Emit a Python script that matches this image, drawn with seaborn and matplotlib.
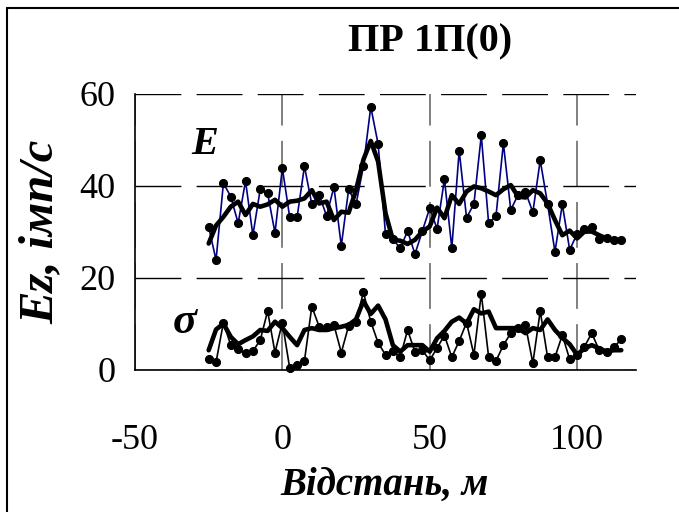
import numpy as np
import pandas as pd
import matplotlib
matplotlib.use("Agg")
import matplotlib.pyplot as plt
import seaborn as sns
from matplotlib.ticker import MultipleLocator
from matplotlib.lines import Line2D

# ---- data ----
distance = [-25, -22.5, -20, -17.5, -15, -12.5, -10, -7.5, -5, -2.5,
            0, 2.5, 5, 7.5, 10, 12.5, 15, 17.5, 20, 22.5,
            25, 27.5, 30, 32.5, 35, 37.5, 40, 42.5, 45, 47.5,
            50, 52.5, 55, 57.5, 60, 62.5, 65, 67.5, 70, 72.5,
            75, 77.5, 80, 82.5, 85, 87.5, 90, 92.5, 95, 97.5,
            100, 102.5, 105, 107.5, 110, 112.5, 115]

e_raw = [31.1, 23.9, 40.6, 37.7, 31.9, 41.1, 29.3, 39.3, 38.4, 29.8,
         43.9, 33.2, 33.2, 44.3, 36.0, 38.1, 33.5, 39.8, 27.0, 39.3,
         36.0, 44.3, 57.2, 49.1, 29.5, 28.4, 26.5, 30.2, 25.2, 30.2,
         35.2, 30.7, 41.5, 26.5, 47.7, 33.1, 36.1, 51.0, 31.9, 33.5,
         49.3, 34.8, 38.1, 38.7, 34.3, 45.6, 36.1, 25.7, 36.0, 26.1,
         29.6, 30.7, 31.1, 28.5, 28.6, 28.2, 28.2]

e_smooth = [27.5, 31.4, 33.3, 35.5, 36.6, 33.7, 36.1, 35.5, 36.0, 37.0,
            35.5, 36.6, 36.8, 37.3, 39.1, 36.2, 36.6, 32.6, 34.4, 34.2,
            39.1, 45.7, 49.8, 45.3, 34.1, 28.3, 28.1, 27.4, 28.3, 30.1,
            31.2, 35.3, 33.0, 38.0, 36.1, 38.8, 39.9, 39.5, 38.8, 38.0,
            39.3, 40.2, 37.7, 37.5, 39.1, 38.4, 36.2, 32.6, 29.3, 30.3,
            28.6, 30.1, 30.1, 29.3, 28.6, 28.1, 28.1]

s_raw = [2.5, 1.7, 10.3, 5.4, 4.5, 3.6, 4.1, 6.5, 12.8, 3.8,
         10.3, 0.4, 1.1, 2.0, 13.8, 9.4, 9.3, 9.8, 3.8, 9.6,
         10.5, 16.9, 10.5, 5.9, 3.3, 4.1, 2.8, 8.7, 3.9, 4.3,
         2.1, 4.8, 7.5, 2.8, 6.3, 10.3, 3.3, 16.6, 2.8, 2.0,
         5.4, 8.0, 9.1, 9.7, 1.5, 12.8, 2.8, 2.8, 7.6, 2.3,
         3.3, 5.1, 8.0, 4.3, 4.0, 4.9, 6.7]

s_smooth = [4.3, 8.8, 10.1, 7.2, 5.6, 6.5, 7.3, 8.7, 8.5, 10.5,
            9.1, 7.2, 5.4, 8.7, 9.1, 8.7, 8.7, 9.1, 9.4, 9.8,
            11.0, 15.0, 12.2, 14.0, 11.0, 5.4, 4.0, 5.4, 5.4, 5.4,
            4.0, 6.9, 8.5, 10.5, 11.4, 10.1, 13.2, 12.3, 12.7, 9.1,
            9.1, 9.1, 9.1, 8.0, 9.1, 8.7, 11.0, 8.7, 7.0, 5.6,
            3.3, 4.7, 5.4, 4.7, 4.0, 4.3, 4.3]

x_major = [-50, 0, 50, 100]
y_major = [0, 20, 40, 60]

title = "ПР 1П(0)"
xlabel = "Відстань, м"
ylabel = "Ez, імп/с"

df = pd.DataFrame({"x": distance, "E": e_raw, "Es": e_smooth,
                   "S": s_raw, "Ss": s_smooth})

# ---- style ----
sns.set_style("white")
plt.rcParams["font.family"] = ["Liberation Serif", "DejaVu Serif"]
plt.rcParams["lines.scale_dashes"] = False
plt.rcParams["text.color"] = "black"

W, H = 679, 512
fig = plt.figure(figsize=(W / 100, H / 100), dpi=100)
L, R, T, B = 135, 636, 94, 370
ax = fig.add_axes([L / W, 1 - B / H, (R - L) / W, (B - T) / H])

raw_kw = dict(linewidth=1.2, marker="o", markersize=5.8,
              markerfacecolor="black", markeredgecolor="black",
              sort=False, estimator=None, clip_on=False)
sm_kw = dict(linewidth=3.3, color="black", sort=False, estimator=None,
             clip_on=False, solid_joinstyle="round")

sns.lineplot(data=df, x="x", y="E", ax=ax, color="#000080", zorder=3, **raw_kw)
sns.lineplot(data=df, x="x", y="Es", ax=ax, zorder=4, **sm_kw)
sns.lineplot(data=df, x="x", y="S", ax=ax, color="black", zorder=3, **raw_kw)
sns.lineplot(data=df, x="x", y="Ss", ax=ax, zorder=4, **sm_kw)

ax.set_xlim(-50, 120)
ax.set_ylim(0, 60)
ax.set_xticks(x_major)
ax.set_yticks(y_major)
ax.xaxis.set_minor_locator(MultipleLocator(10))
ax.yaxis.set_minor_locator(MultipleLocator(10))
ax.set_xticklabels([str(v) for v in x_major])
ax.set_yticklabels([str(v) for v in y_major])

ax.set_axisbelow(True)
ax.yaxis.grid(True, which="major", color="black", linewidth=1.0,
              linestyle=(0, (33, 11)))
ax.xaxis.grid(True, which="major", color="#808080", linewidth=1.4,
              linestyle=(0, (33, 11)))

for s in ["top", "right"]:
    ax.spines[s].set_visible(False)
for s in ["left", "bottom"]:
    ax.spines[s].set_color("black")
    ax.spines[s].set_linewidth(1.2)

ax.tick_params(axis="both", which="both", direction="out", color="black",
               width=1.1, labelsize=26, labelcolor="black")
ax.tick_params(axis="y", which="both", length=7, pad=7)
ax.tick_params(axis="x", which="both", length=9, pad=30)

ax.set_xlabel("")
ax.set_ylabel("")

fig.text(430 / W, 1 - 42 / H, title, ha="center", va="center",
         fontsize=29, fontweight="bold", color="black")
fig.text(385 / W, 1 - 485 / H, xlabel, ha="center", va="center",
         fontsize=28, fontweight="bold", fontstyle="italic", color="black")
fig.text(41 / W, 1 - 232 / H, ylabel, ha="center", va="center",
         rotation=90, fontsize=35, fontweight="bold", fontstyle="italic",
         color="black")

fig.text(205 / W, 1 - 144 / H, "E", ha="center", va="center",
         fontsize=29, fontweight="bold", fontstyle="italic", color="black")
fig.text(185 / W, 1 - 322 / H, "σ", ha="center", va="center",
         fontsize=32, fontweight="bold", fontstyle="italic", color="black")

# figure frame (left and top edges visible)
fig.add_artist(Line2D([7 / W, 7 / W], [0, 1 - 8 / H], color="black",
                      linewidth=1.5, transform=fig.transFigure))
fig.add_artist(Line2D([7 / W, 1], [1 - 8 / H, 1 - 8 / H], color="black",
                      linewidth=1.5, transform=fig.transFigure))

fig.savefig("out.png", dpi=100)
